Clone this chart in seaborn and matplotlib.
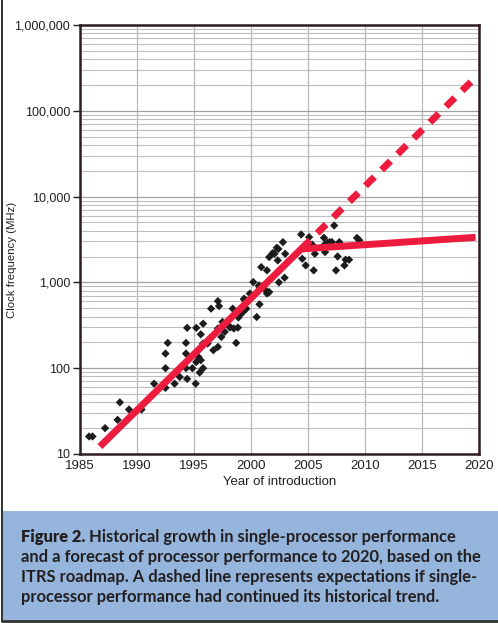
import matplotlib
matplotlib.use("Agg")
import matplotlib.pyplot as plt
from matplotlib.lines import Line2D
from matplotlib.patches import Rectangle
from matplotlib.ticker import LogLocator, NullFormatter
import numpy as np
import pandas as pd
import seaborn as sns

# processor data points (year of introduction, clock MHz)
years = [
    1985.8, 1986.1, 1987.2, 1988.3, 1988.5, 1989.3, 1990.4, 1991.5, 1992.5, 1992.5,
    1992.5, 1992.7, 1993.3, 1993.75, 1994.3, 1994.4, 1994.3, 1994.3, 1994.4, 1994.86,
    1995.15, 1995.2, 1995.4, 1995.5, 1995.6, 1995.2, 1995.8, 1995.8, 1995.8, 1995.6,
    1996.2, 1996.5, 1996.7, 1997.1, 1997.1, 1997.1, 1997.2, 1997.5, 1997.4, 1997.7,
    1998.1, 1998.2, 1998.5, 1998.4, 1998.7, 1998.85, 1998.9, 1999.0, 1999.3, 1999.4,
    1999.4, 1999.6, 1999.9, 2000.2, 2000.5, 2000.75, 2000.75, 2000.7, 2000.9, 2001.3,
    2001.4, 2001.4, 2001.6, 2001.6, 2001.9, 2002.06, 2002.26, 2002.35, 2002.45, 2002.95,
    2002.4, 2002.8, 2003.0, 2004.4, 2004.5, 2004.8, 2005.1, 2005.36, 2005.5, 2005.6,
    2006.3, 2006.4, 2006.5, 2006.5, 2006.7, 2006.9, 2007.1, 2007.3, 2007.46, 2007.6,
    2007.75, 2008.2, 2008.3, 2008.6, 2009.3, 2009.5,
]
clock_mhz = [
    16, 16, 20, 25, 40, 33, 33, 66, 59, 100,
    148, 197, 66, 79, 197, 295, 148, 100, 75, 100,
    66, 118, 135, 89, 248, 295, 330, 100, 194, 124,
    194, 494, 162, 177, 290, 605, 530, 346, 231, 265,
    302, 300, 290, 494, 197, 297, 390, 413, 452, 646,
    630, 494, 741, 1009, 395, 555, 883, 920, 1506, 807,
    741, 1380, 1972, 771, 2193, 2153, 2531, 1803, 1000, 1133,
    2455, 2944, 2153, 3613, 1885, 1577, 3366, 2767, 1380, 2153,
    2624, 3311, 2767, 2254, 2900, 2950, 2950, 4600, 1380, 2005,
    2944, 1577, 1837, 1837, 3300, 3100,
]

# trend lines: historical + ITRS forecast, and continued historical trend
trend_years = [1986.75, 2004.4, 2019.7]
trend_mhz = [12.2, 2450, 3350]
dashed_years = [2004.4, 2019.45]
dashed_mhz = [2450, 227000]

x_ticks = [1985, 1990, 1995, 2000, 2005, 2010, 2015, 2020]
y_ticks = [10, 100, 1000, 10000, 100000, 1000000]
y_labels = ["10", "100", "1,000", "10,000", "100,000", "1,000,000"]

caption_lines = [
    "Historical growth in single-processor performance",
    "and a forecast of processor performance to 2020, based on the",
    "ITRS roadmap. A dashed line represents expectations if single-",
    "processor performance had continued its historical trend.",
]

RED = "#ED1C3F"
INK = "#231f20"
SPINE = "#2e1c20"

sns.set_style("white")
plt.rcParams["font.family"] = ["Liberation Sans", "DejaVu Sans"]

fig = plt.figure(figsize=(4.98, 6.23), dpi=100)
ax = fig.add_axes([0.1606, 0.2713, 0.8012, 0.6886])

points = pd.DataFrame({"year": years, "mhz": clock_mhz})
ax.set_yscale("log")
ax.set_xlim(1985, 2020)
ax.set_ylim(10, 1e6)

ax.yaxis.set_minor_locator(LogLocator(base=10, subs=np.arange(2, 10)))
ax.yaxis.set_minor_formatter(NullFormatter())
ax.grid(which="minor", axis="y", color="#bdbdbd", lw=0.8, zorder=0)
ax.grid(which="major", axis="y", color="#a0a0a0", lw=0.9, zorder=0)
ax.grid(which="major", axis="x", color="#b8b8b8", lw=0.9, zorder=0)
ax.set_axisbelow(True)

sns.scatterplot(data=points, x="year", y="mhz", marker="D", s=18, color="#1c1c1c",
                edgecolor="none", ax=ax, zorder=3)
sns.lineplot(x=trend_years, y=trend_mhz, color=RED, lw=5, ax=ax, zorder=4,
             solid_capstyle="butt")
ax.plot(dashed_years, dashed_mhz, color=RED, lw=5, dashes=(1.8, 1.45),
        dash_capstyle="butt", zorder=4)

ax.set_xticks(x_ticks)
ax.set_xticklabels([str(t) for t in x_ticks])
ax.set_yticks(y_ticks)
ax.set_yticklabels(y_labels)
ax.tick_params(axis="x", length=0, pad=4, labelsize=9.5, colors=INK)
ax.tick_params(axis="y", which="major", length=5, width=1, direction="out",
               pad=2, labelsize=9, colors=INK, left=True)
ax.tick_params(axis="y", which="minor", length=0)
for side in ["left", "right", "top", "bottom"]:
    ax.spines[side].set_visible(True)
    ax.spines[side].set_color(SPINE)
    ax.spines[side].set_linewidth(1.8)

ax.set_xlabel("Year of introduction", fontsize=9.5, color=INK, labelpad=3)
ax.set_ylabel("Clock frequency (MHz)", fontsize=8.2, color=INK)
ax.yaxis.set_label_coords(-0.158, 0.452)

# caption box and outer frame
fig.add_artist(Rectangle((0.006, 0.0048), 0.994, 0.175, transform=fig.transFigure,
                         facecolor="#95b5dc", edgecolor="none", zorder=0))
fig.add_artist(Line2D([0.005, 0.005], [0.003, 1.0], transform=fig.transFigure,
                      color="#303030", lw=1.4))
fig.add_artist(Line2D([0.005, 1.0], [0.004, 0.004], transform=fig.transFigure,
                      color="#303030", lw=2.0))

cap_font = dict(family=["Lato", "DejaVu Sans"], fontsize=11.9, color=INK, va="center")
x0 = 21 / 498
line_y = [1 - 537 / 623, 1 - 557 / 623, 1 - 577 / 623, 1 - 597 / 623]
head = fig.text(x0, line_y[0], "Figure 2.", fontweight="heavy", **cap_font)
renderer = fig.canvas.get_renderer()
bb = head.get_window_extent(renderer=renderer)
fig.text(bb.x1 / fig.bbox.width + 0.008, line_y[0], caption_lines[0],
         fontweight="bold", **cap_font)
for text, y in zip(caption_lines[1:], line_y[1:]):
    fig.text(x0, y, text, fontweight="bold", **cap_font)

fig.savefig("out.png", dpi=100)
